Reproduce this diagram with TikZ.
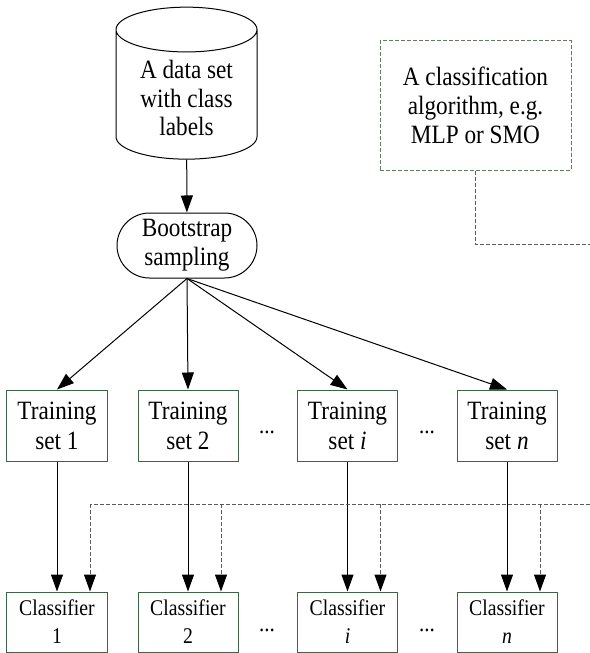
\documentclass[tikz,border=0pt]{standalone}
\usepackage{fontspec}
\setmainfont[FakeStretch=0.88]{Liberation Serif}
\usetikzlibrary{shapes.geometric,shapes.misc,arrows.meta}
\definecolor{boxgreen}{HTML}{3E6446}
\definecolor{algogreen}{HTML}{5E7E64}
\definecolor{feedgray}{HTML}{5A5A5A}

\begin{document}
\begin{tikzpicture}[x=1bp, y=-1bp, line width=1bp, >={Triangle[length=17bp,width=12bp,color=black]}]
        \tikzstyle{store}=[cylinder,shape border rotate=90,draw,aspect=0.45,minimum width=141bp,minimum height=152bp,align=center,font=\fontsize{26.5}{28.5}\selectfont]
        \tikzstyle{sampler}=[rounded rectangle,draw,minimum width=140bp,minimum height=65bp,inner sep=0pt,align=center,font=\fontsize{26.5}{29.5}\selectfont]
        \tikzstyle{algo}=[draw=algogreen,dash pattern=on 4bp off 2bp,minimum width=191bp,minimum height=129bp,inner sep=0pt,align=center,font=\fontsize{26.5}{29}\selectfont]
        \tikzstyle{setbox}=[draw=boxgreen,minimum width=100bp,minimum height=71bp,inner sep=0pt,align=center,font=\fontsize{26.5}{30}\selectfont]
        \tikzstyle{clfbox}=[draw=boxgreen,minimum width=100bp,minimum height=60bp,inner sep=0pt,align=center,font=\fontsize{22.5}{28}\selectfont]
        \tikzstyle{dots}=[inner sep=0pt,font=\fontsize{24}{24}\selectfont]
        \tikzstyle{feed}=[draw=feedgray,dash pattern=on 4bp off 2bp]

        \useasboundingbox (0,0) rectangle (590,653);

        \node[store] (D) at (186.5,98) {A data set\\with class\\labels};
        \node[sampler] (B) at (187,245.5) {Bootstrap\\sampling};
        \node[algo] (A) at (475.5,105.5) {A classification\\algorithm, e.g.\\MLP or SMO};

        \node[setbox] (T_1) at (57,425.5) {Training\\set 1};
        \node[setbox] (T_2) at (188,425.5) {Training\\set 2};
        \node[setbox] (T_i) at (347.5,425.5) {Training\\set \textit{i}};
        \node[setbox] (T_n) at (507,425.5) {Training\\set \textit{n}};
        \node[dots] (td_1) at (267,432) {...};
        \node[dots] (td_2) at (427,432) {...};

        \node[clfbox] (C_1) at (57,622) {Classifier\\1};
        \node[clfbox] (C_2) at (188,622) {Classifier\\2};
        \node[clfbox] (C_i) at (347.5,622) {Classifier\\\textit{i}};
        \node[clfbox] (C_n) at (507,622) {Classifier\\\textit{n}};
        \node[dots] (cd_1) at (267,630) {...};
        \node[dots] (cd_2) at (427,630) {...};

        % feed lines of the learning algorithm
        \coordinate (e_1) at (600,244);
        \coordinate (e_2) at (600,504);
        \coordinate (f_1) at (90,504);
        \coordinate (f_2) at (221,504);
        \coordinate (f_3) at (380.5,504);
        \coordinate (f_4) at (540,504);

        \draw[->] (D) -- (B);
        \draw[->] (B.south) -- (T_1.north);
        \draw[->] (B.south) -- (T_2.north);
        \draw[->] (B.south) -- (T_i.north);
        \draw[->] (B.south) -- (T_n.north);

        \draw[->] (T_1) -- (C_1);
        \draw[->] (T_2) -- (C_2);
        \draw[->] (T_i) -- (C_i);
        \draw[->] (T_n) -- (C_n);

        \draw[feed] (A.south) |- (e_1) -- (e_2) -- (f_1);
        \draw[feed,->] (f_1) -- (f_1 |- C_1.north);
        \draw[feed,->] (f_2) -- (f_2 |- C_2.north);
        \draw[feed,->] (f_3) -- (f_3 |- C_i.north);
        \draw[feed,->] (f_4) -- (f_4 |- C_n.north);
\end{tikzpicture}
\end{document}
